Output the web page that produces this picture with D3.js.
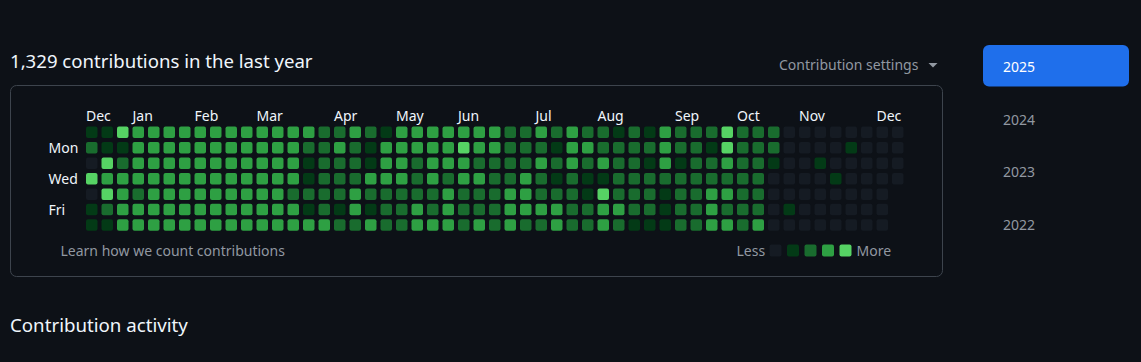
<!DOCTYPE html>
<html lang="en">
<head>
    <meta charset="UTF-8">
    <title>Contributions</title>
    <script src="https://d3js.org/d3.v7.min.js"></script>
    <style>
        html, body {
            margin: 0;
            padding: 0;
            background-color: #0d1117;
        }
        svg {
            display: block;
            font-family: 'Noto Sans', sans-serif;
        }
        .muted { fill: #9198a1; }
        .label { fill: #f0f6fc; font-size: 14px; }
    </style>
</head>
<body>
<script>
    // contribution level per week (Sun..Sat)
    const weeks = [
        [1,2,0,4,0,1,1], [1,1,4,3,4,2,1], [4,1,2,3,3,3,3], [3,3,3,3,2,3,3],
        [3,3,3,3,3,3,3], [3,3,3,3,3,3,3], [3,3,3,3,3,3,3], [3,3,3,3,3,3,3],
        [3,3,3,3,3,3,3], [3,3,3,3,3,3,3], [3,3,3,3,3,3,3], [3,3,3,3,3,3,3],
        [3,3,3,3,3,3,3], [3,3,3,3,2,3,3], [3,2,1,1,2,1,3], [2,2,2,2,2,2,3],
        [2,3,2,2,2,1,2], [3,2,2,2,3,3,2], [2,1,1,3,2,1,3], [1,3,3,3,2,2,2],
        [3,3,3,3,2,2,2], [3,3,2,2,2,3,3], [3,3,3,3,2,2,3], [3,3,3,2,3,3,3],
        [3,4,3,3,2,2,2], [3,3,2,3,2,2,3], [3,3,2,2,2,2,2], [2,2,2,2,3,3,3],
        [2,2,2,3,3,3,2], [3,2,3,2,2,3,2], [2,1,2,1,2,3,3], [3,3,3,2,2,2,2],
        [2,3,2,1,1,2,2], [2,2,3,1,4,3,3], [1,2,2,2,2,3,2], [2,2,2,2,2,2,1],
        [1,2,1,2,2,2,1], [3,3,3,2,1,1,1], [2,2,1,2,2,2,2], [2,2,2,2,2,2,2],
        [2,1,2,2,3,3,3], [4,4,3,2,3,2,3], [2,2,2,2,2,2,2], [2,2,2,2,2,2,3],
        [2,2,1,0,0,0,0], [0,0,0,0,0,1,0], [0,0,0,0,0,0,0], [0,0,1,0,0,0,0],
        [0,0,0,1,0,0,0], [0,1,0,0,0,0,0], [0,0,0,0,0,0,0], [0,0,0,0,0,0,0],
        [0,0,0,0]
    ];

    const monthLabels = ["Dec", "Jan", "Feb", "Mar", "Apr", "May", "Jun", "Jul", "Aug", "Sep", "Oct", "Nov", "Dec"];
    const monthWeeks = [0, 3, 7, 11, 16, 20, 24, 29, 33, 38, 42, 46, 51];

    const dayLabels = ["Mon", "Wed", "Fri"];
    const dayRows = [1, 3, 5];

    const levels = [0, 1, 2, 3, 4];
    const levelColors = ["#151b23", "#033a16", "#196c2e", "#2ea043", "#56d364"];

    const years = ["2025", "2024", "2023", "2022"];
    const selectedYear = "2025";

    const totalText = "1,329 contributions in the last year";

    const W = 1141, H = 362;

    const svg = d3.select("body").append("svg")
        .attr("width", W)
        .attr("height", H);

    const color = d3.scaleOrdinal().domain(levels).range(levelColors);

    // 15.5px pitch, 11.5px cells
    const x = d3.scaleBand()
        .domain(d3.range(weeks.length))
        .range([86, 86 + weeks.length * 15.5 - 4])
        .paddingInner(4 / 15.5);

    const y = d3.scaleBand()
        .domain(d3.range(7))
        .range([126.6, 126.6 + 7 * 15.45 - 3.95])
        .paddingInner(3.95 / 15.45);

    // heading
    svg.append("text")
        .attr("x", 10)
        .attr("y", 68)
        .attr("fill", "#f0f6fc")
        .style("font-size", "18.6px")
        .text(totalText);

    svg.append("text")
        .attr("class", "muted")
        .attr("x", 779)
        .attr("y", 70)
        .style("font-size", "14px")
        .text("Contribution settings");

    svg.append("path")
        .attr("class", "muted")
        .attr("d", "M928.5,63 L937.5,63 L933,67.5 Z");

    // outer box
    svg.append("rect")
        .attr("x", 10.5)
        .attr("y", 85.5)
        .attr("width", 932)
        .attr("height", 191)
        .attr("rx", 6)
        .attr("fill", "none")
        .attr("stroke", "#3d444d");

    // month labels
    svg.selectAll(".month")
        .data(monthLabels)
        .enter().append("text")
        .attr("class", "label month")
        .attr("x", (d, i) => x(monthWeeks[i]))
        .attr("y", 120.5)
        .text(d => d);

    // day labels
    svg.selectAll(".day")
        .data(dayLabels)
        .enter().append("text")
        .attr("class", "label day")
        .attr("x", 48.5)
        .attr("y", (d, i) => y(dayRows[i]) + y.bandwidth() / 2 + 5)
        .text(d => d);

    // cells
    const cols = svg.selectAll(".week")
        .data(weeks)
        .enter().append("g")
        .attr("class", "week")
        .attr("transform", (d, i) => `translate(${x(i)},0)`);

    cols.selectAll("rect")
        .data(d => d)
        .enter().append("rect")
        .attr("x", 0)
        .attr("y", (d, i) => y(i))
        .attr("width", x.bandwidth())
        .attr("height", y.bandwidth())
        .attr("rx", 2)
        .attr("fill", d => color(d));

    // footer
    svg.append("text")
        .attr("class", "muted")
        .attr("x", 60.5)
        .attr("y", 256)
        .style("font-size", "14px")
        .text("Learn how we count contributions");

    svg.append("text")
        .attr("class", "muted")
        .attr("x", 736.5)
        .attr("y", 256)
        .style("font-size", "14px")
        .text("Less");

    const legendX = d3.scaleBand()
        .domain(levels)
        .range([769.5, 769.5 + levels.length * 17.5 - 5.5])
        .paddingInner(5.5 / 17.5);

    svg.selectAll(".legend")
        .data(levels)
        .enter().append("rect")
        .attr("class", "legend")
        .attr("x", d => legendX(d))
        .attr("y", 244.5)
        .attr("width", legendX.bandwidth())
        .attr("height", 12)
        .attr("rx", 2)
        .attr("fill", d => color(d));

    svg.append("text")
        .attr("class", "muted")
        .attr("x", 856.5)
        .attr("y", 256)
        .style("font-size", "14px")
        .text("More");

    // year selector
    const yearY = d3.scalePoint()
        .domain(years)
        .range([72, 229.5]);

    svg.append("rect")
        .attr("x", 983)
        .attr("y", 45)
        .attr("width", 146)
        .attr("height", 41.5)
        .attr("rx", 6)
        .attr("fill", "#1f6feb");

    svg.selectAll(".year")
        .data(years)
        .enter().append("text")
        .attr("class", "year")
        .attr("x", 1003)
        .attr("y", d => yearY(d))
        .attr("fill", d => d === selectedYear ? "#ffffff" : "#9198a1")
        .style("font-size", "14px")
        .text(d => d);

    svg.append("text")
        .attr("x", 10)
        .attr("y", 331.5)
        .attr("fill", "#f0f6fc")
        .style("font-size", "18.7px")
        .text("Contribution activity");
</script>
</body>
</html>
